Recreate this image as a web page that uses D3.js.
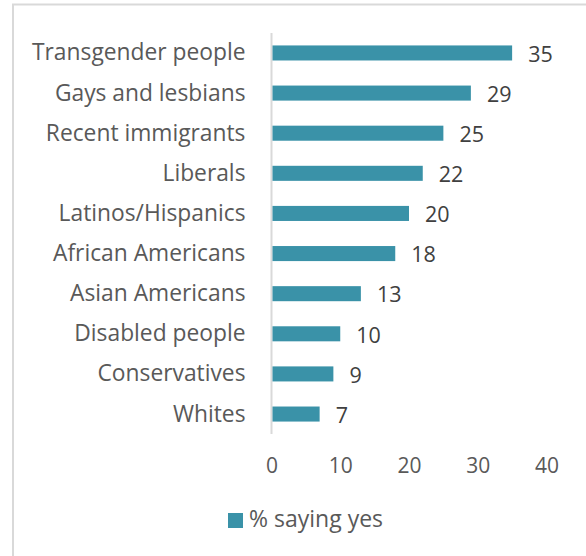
<!DOCTYPE html>
<html>
<head>
<meta charset="utf-8">
<script src="https://cdn.jsdelivr.net/npm/d3@7"></script>
<style>
  html, body { margin: 0; padding: 0; background: #fff; }
  svg { display: block; }
</style>
</head>
<body>
<svg id="chart" width="586" height="556"></svg>
<script>
// Groups asked about, top to bottom
const categories = [
  "Transgender people", "Gays and lesbians", "Recent immigrants", "Liberals",
  "Latinos/Hispanics", "African Americans", "Asian Americans", "Disabled people",
  "Conservatives", "Whites"
];
const values = [35, 29, 25, 22, 20, 18, 13, 10, 9, 7];
const xTicks = [0, 10, 20, 30, 40];
const seriesName = "% saying yes";

const W = 586, H = 556;
const barColor = "#3a92a8";
const font = "'Open Sans', sans-serif";

const svg = d3.select("#chart");

// Outer chart frame (extends past the right and bottom of the view)
svg.append("rect")
  .attr("x", 13).attr("y", 4.5)
  .attr("width", W + 20).attr("height", H + 20)
  .attr("fill", "#fff")
  .attr("stroke", "#d9d9d9").attr("stroke-width", 2);

const x = d3.scaleLinear().domain([0, 40]).range([271.5, 546.5]);
const y = d3.scaleBand().domain(categories).range([33, 434]).paddingInner(0.625).paddingOuter(0.31);

// Category axis line
svg.append("line")
  .attr("x1", x(0)).attr("x2", x(0))
  .attr("y1", 33).attr("y2", 434)
  .attr("stroke", "#d9d9d9").attr("stroke-width", 2);

// Bars
svg.append("g").selectAll("rect")
  .data(values)
  .join("rect")
  .attr("x", x(0) + 1)
  .attr("y", (d, i) => y(categories[i]))
  .attr("width", d => x(d) - x(0) - 1)
  .attr("height", y.bandwidth())
  .attr("fill", barColor);

// Value labels
svg.append("g").selectAll("text")
  .data(values)
  .join("text")
  .attr("x", d => x(d) + 16)
  .attr("y", (d, i) => y(categories[i]) + y.bandwidth() / 2 + 3)
  .attr("dominant-baseline", "middle")
  .attr("font-family", font).attr("font-size", 21.5)
  .attr("fill", "#404040")
  .text(d => d);

// Category labels
const yAxis = d3.axisLeft(y).tickSize(0).tickPadding(26);
const gy = svg.append("g").attr("transform", `translate(${x(0)},0)`).call(yAxis);
gy.select(".domain").remove();
gy.selectAll("text")
  .attr("font-family", font).attr("font-size", 22.8)
  .attr("fill", "#595959")
  .attr("dy", "0.33em");

// Value axis tick labels (no line)
const xAxis = d3.axisBottom(x).tickValues(xTicks).tickSize(0).tickPadding(0);
const gx = svg.append("g").attr("transform", "translate(0,466)").call(xAxis);
gx.select(".domain").remove();
gx.selectAll("text")
  .attr("font-family", font).attr("font-size", 21)
  .attr("fill", "#595959")
  .attr("dy", "0.35em")
  .attr("y", 0);

// Legend
const lg = svg.append("g").attr("transform", "translate(228,513)");
lg.append("rect").attr("width", 15).attr("height", 15).attr("fill", barColor);
lg.append("text")
  .attr("x", 21).attr("y", 8)
  .attr("dominant-baseline", "middle")
  .attr("font-family", font).attr("font-size", 23)
  .attr("fill", "#595959")
  .text(seriesName);
</script>
</body>
</html>
